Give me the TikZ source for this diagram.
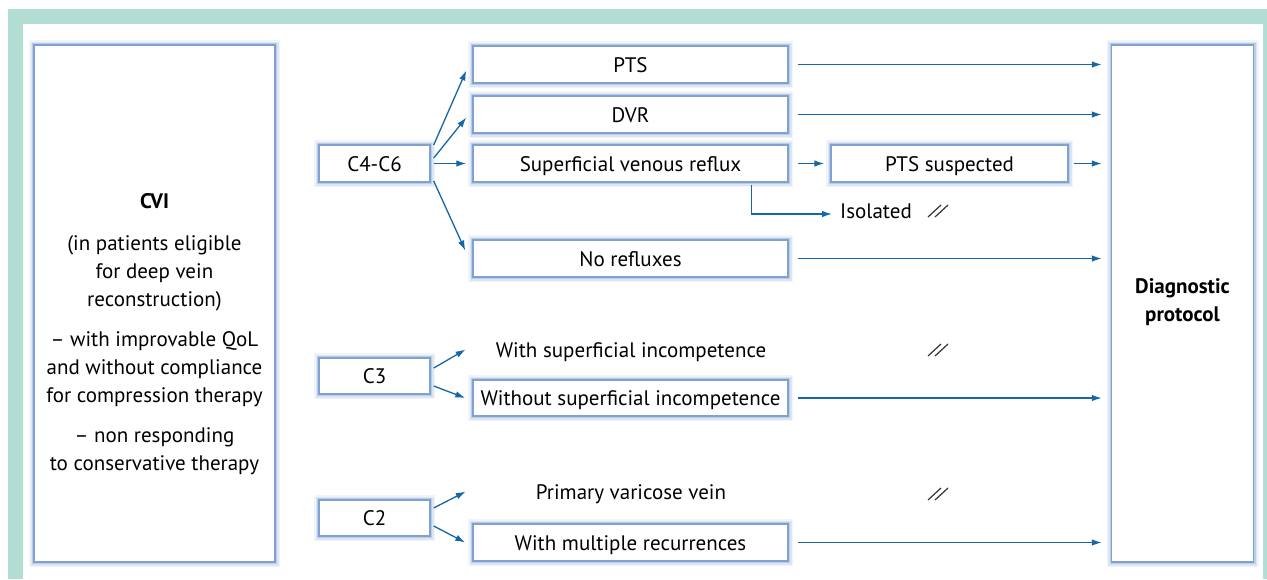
\documentclass[tikz,border=0pt]{standalone}
\usepackage{fontspec}
\setmainfont{PT Sans}
\usetikzlibrary{arrows.meta}
\definecolor{teal}{HTML}{B2DDD3}
\definecolor{glow}{HTML}{7FA2D2}
\definecolor{arr}{HTML}{1767A6}
\definecolor{mark}{HTML}{333333}
\tikzset{
  box/.style={rectangle, inner sep=0pt, fill=white, font=\fontsize{21}{28}\selectfont,
    text height=15.5pt, text depth=0.5pt,
    preaction={draw=glow, line width=10pt, draw opacity=0.10},
    preaction={draw=glow, line width=7pt, draw opacity=0.18},
    preaction={draw=glow, line width=4pt, draw opacity=0.35},
    draw=glow, line width=1.4pt},
  bigbox/.style={rectangle, inner sep=0pt, fill=white,
    preaction={draw=glow, line width=10pt, draw opacity=0.10},
    preaction={draw=glow, line width=7pt, draw opacity=0.18},
    preaction={draw=glow, line width=4pt, draw opacity=0.35},
    draw=glow, line width=1.4pt},
  lbl/.style={inner sep=0pt, font=\fontsize{21}{28}\selectfont},
  txt/.style={lbl, text height=15.5pt, text depth=0.5pt},
  con/.style={draw=arr, line width=1.3pt, -{Latex[length=10pt,width=6.5pt]}},
  slash/.style={draw=mark, line width=1.2pt},
}
\begin{document}
\begin{tikzpicture}[x=1pt,y=-1pt]
\useasboundingbox (0,0) rectangle (1267,579);
\fill[white] (0,0) rectangle (1267,579);
\fill[teal] (8,9) rectangle (1267,579);
\fill[white] (23,24) rectangle (1263,579);
% nodes
\node[bigbox, minimum width=241pt, minimum height=517pt] (cvi) at (154.5,303.5) {};
\node[lbl, align=center] (cvit) at (154.5,334) {\textbf{CVI}\\[14pt](in patients eligible\\for deep vein\\reconstruction)\\[12pt]– with improvable QoL\\and without compliance\\for compression therapy\\[12pt]– non responding\\to conservative therapy};
\node[bigbox, minimum width=142pt, minimum height=517pt] (diag) at (1182.5,303.5) {};
\node[lbl, align=center] (diagt) at (1182.5,302) {\textbf{Diagnostic}\\\textbf{protocol}};
\node[box, minimum width=111pt, minimum height=37pt] (c46) at (374.5,163.5) {C4-C6};
\node[box, minimum width=315pt, minimum height=37pt] (pts) at (630.5,64.5) {PTS};
\node[box, minimum width=315pt, minimum height=37pt] (dvr) at (630.5,114.5) {DVR};
\node[box, minimum width=315pt, minimum height=37pt] (svr) at (630.5,163.5) {Superficial venous reflux};
\node[box, minimum width=237pt, minimum height=37pt] (ptss) at (949.5,163.5) {PTS suspected};
\node[box, minimum width=315pt, minimum height=37pt] (noref) at (630.5,258.5) {No refluxes};
\node[txt, anchor=west] (iso) at (840,211) {Isolated};
\node[box, minimum width=111pt, minimum height=36pt] (c3) at (374.5,376) {C3};
\node[txt] (wsi) at (631,349.5) {With superficial incompetence};
\node[box, minimum width=315pt, minimum height=36pt] (wosi) at (630.5,398) {Without superficial incompetence};
\node[box, minimum width=111pt, minimum height=36pt] (c2) at (374.5,518) {C2};
\node[txt] (pvv) at (631,491.5) {Primary varicose vein};
\node[box, minimum width=315pt, minimum height=37pt] (wmr) at (630.5,542.5) {With multiple recurrences};
% coordinates for arrow ends
\coordinate (c46a) at ([xshift=3pt,yshift=18.5pt]c46.east);
\coordinate (c46b) at ([xshift=3pt,yshift=5.5pt]c46.east);
\coordinate (c46c) at ([xshift=3pt]c46.east);
\coordinate (c46d) at ([xshift=3pt,yshift=-17.5pt]c46.east);
% connectors
\draw[con] (c46a) -- ([xshift=-6pt,yshift=-6pt]pts.west);
\draw[con] (c46b) -- ([xshift=-6pt,yshift=-3pt]dvr.west);
\draw[con] (c46c) -- ([xshift=-6pt]svr.west);
\draw[con] (c46d) -- ([xshift=-7pt,yshift=8pt]noref.west);
\draw[con] ([xshift=9pt]pts.east) -- ([xshift=-9pt]pts.east -| diag.west);
\draw[con] ([xshift=9pt]dvr.east) -- ([xshift=-9pt]dvr.east -| diag.west);
\draw[con] ([xshift=9pt]svr.east) -- ([xshift=-6pt]ptss.west);
\draw[con] ([xshift=5pt]ptss.east) -- ([xshift=-9pt]ptss.east -| diag.west);
\draw[con] ([xshift=121pt,yshift=-2pt]svr.south) |- ([xshift=-8pt,yshift=-3pt]iso.west);
\draw[con] ([xshift=9pt]noref.east) -- ([xshift=-9pt]noref.east -| diag.west);
\draw[con] ([xshift=3pt,yshift=8pt]c3.east) -- ([xshift=-30pt]wsi.west);
\draw[con] ([xshift=3pt,yshift=-10pt]c3.east) -- ([xshift=-7pt]wosi.west);
\draw[con] ([xshift=9pt]wosi.east) -- ([xshift=-9pt]wosi.east -| diag.west);
\draw[con] ([xshift=3pt,yshift=10pt]c2.east) -- ([xshift=-70pt]pvv.west);
\draw[con] ([xshift=3pt,yshift=-8pt]c2.east) -- ([xshift=-7pt]wmr.west);
\draw[con] ([xshift=9pt]wmr.east) -- ([xshift=-9pt]wmr.east -| diag.west);
% parallel marks
\foreach \mx/\my in {928/217, 928/356, 928/500} {
  \draw[slash] (\mx,\my) -- ++(13,-12);
  \draw[slash] (\mx+7,\my) -- ++(13,-12);
}
\end{tikzpicture}
\end{document}
